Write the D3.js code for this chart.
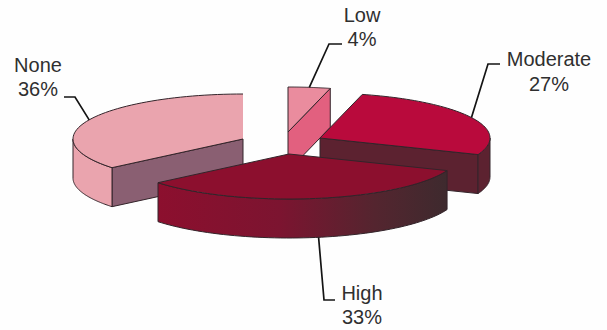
<!DOCTYPE html>
<html>
<head>
<meta charset="utf-8">
<script src="https://cdn.jsdelivr.net/npm/d3@7"></script>
<style>
  html, body { margin: 0; padding: 0; background: #fefefe; }
  svg { display: block; }
  text { font-family: "Liberation Sans", Arial, sans-serif; font-size: 20px; fill: #2f2f2f; text-anchor: middle; }
</style>
</head>
<body>
<svg id="chart" width="607" height="330"></svg>
<script>
// Pie data, clockwise from twelve o'clock
const categories = ["Low", "Moderate", "High", "None"];
const percentages = [4, 27, 33, 36];

// Layout of the exploded, tilted pie
const rx = 170, ry = 45, depth = 39;
const origins = {
  Low: [288, 132], Moderate: [320, 138], High: [289, 154], None: [243, 139]
};
const looks = {
  Low: { top: "#ea8c9e", side: "#e2607f", rim: "#e2607f" },
  Moderate: { top: "#b90a3c", side: "#5c2230", rim: "#5c2230" },
  High: { top: "#8c0f2e", side: "#8c0f2e", rim: "url(#highWall)" },
  None: { top: "#eaa4ae", side: "#8a5f72", rim: "#eaa4ae" }
};
const outline = "#33242a";

// Leader polylines run from the rim at the slice's mid-angle to an elbow and a tail
const leaders = {
  Low: [[329, 44], [342, 44]],
  Moderate: [[488, 64], [500, 64]],
  High: [[324, 300], [335, 300]],
  None: [[75, 97], [64, 97]]
};
const leaderNudge = { Low: 0, Moderate: 0, High: 3, None: 0 };
const labelSpots = {
  Low: { x: 362, y: 22, gap: 24 },
  Moderate: { x: 549, y: 66, gap: 25 },
  High: { x: 362, y: 300, gap: 24 },
  None: { x: 38, y: 72, gap: 24 }
};

const svg = d3.select("#chart");

const defs = svg.append("defs");
const grad = defs.append("linearGradient")
  .attr("id", "highWall")
  .attr("gradientUnits", "userSpaceOnUse")
  .attr("x1", 158).attr("x2", 447).attr("y1", 0).attr("y2", 0);
grad.selectAll("stop")
  .data([[0, "#8c0f2e"], [0.42, "#7c1430"], [0.75, "#54252f"], [1, "#3e2a2e"]])
  .join("stop")
  .attr("offset", d => d[0])
  .attr("stop-color", d => d[1]);

const slices = d3.pie().sort(null).value(d => d)(percentages)
  .map((s, i) => ({ ...s, name: categories[i] }));

// Elliptical projection of a pie angle onto the tilted disc
const xOf = d3.scaleLinear().domain([-1, 1]).range([-rx, rx]);
const yOf = d3.scaleLinear().domain([-1, 1]).range([-ry, ry]);
const rim = (name, a, drop = 0) => {
  const [cx, cy] = origins[name];
  return [cx + xOf(Math.sin(a)), cy + yOf(-Math.cos(a)) + drop];
};

const topArc = d3.arc().innerRadius(0).outerRadius(rx);
const line = d3.line();

// Sampled points along the rim between two angles
const rimPoints = (name, from, to, drop = 0) =>
  d3.range(0, 61).map(k => rim(name, from + (to - from) * k / 60, drop));

// Outer wall for the part of a slice's rim that faces the viewer
function wallPath(d) {
  const from = Math.max(d.startAngle, Math.PI / 2);
  const to = Math.min(d.endAngle, Math.PI * 1.5);
  if (from >= to) return null;
  const upper = rimPoints(d.name, from, to);
  const lower = rimPoints(d.name, to, from, depth);
  return line(upper.concat(lower)) + "Z";
}

// Flat cut face along one radial edge of a slice
function cutPath(d, a) {
  const [cx, cy] = origins[d.name];
  const p = rim(d.name, a);
  return line([[cx, cy], p, [p[0], p[1] + depth], [cx, cy + depth]]) + "Z";
}

// Which radial edge shows its cut face for each slice
const visibleCut = { Low: d => d.endAngle, Moderate: d => d.endAngle, None: d => d.startAngle };

// Back-to-front painting order
const order = ["Low", "None", "Moderate", "High"];
const pieces = svg.selectAll("g.slice")
  .data(order.map(n => slices.find(s => s.name === n)))
  .join("g")
  .attr("class", "slice");

pieces.each(function (d) {
  const g = d3.select(this);
  const look = looks[d.name];
  const [cx, cy] = origins[d.name];

  if (visibleCut[d.name]) {
    g.append("path")
      .attr("d", cutPath(d, visibleCut[d.name](d)))
      .attr("fill", look.side)
      .attr("stroke", outline).attr("stroke-width", 1).attr("stroke-linejoin", "round");
  }
  const wall = wallPath(d);
  if (wall) {
    g.append("path")
      .attr("d", wall)
      .attr("fill", look.rim)
      .attr("stroke", outline).attr("stroke-width", 1).attr("stroke-linejoin", "round");
  }
  g.append("path")
    .attr("d", topArc(d))
    .attr("transform", `translate(${cx},${cy}) scale(1,${ry / rx})`)
    .attr("fill", look.top);

  // The None slice's upright edge at twelve o'clock carries no outline
  const edge = [[cx, cy], ...rimPoints(d.name, d.startAngle, d.endAngle)];
  if (d.name !== "None") edge.push([cx, cy]);
  g.append("path")
    .attr("d", line(edge))
    .attr("fill", "none")
    .attr("stroke", outline).attr("stroke-width", 1).attr("stroke-linejoin", "round");
});

// Leader lines
svg.selectAll("path.leader")
  .data(slices)
  .join("path")
  .attr("class", "leader")
  .attr("fill", "none")
  .attr("stroke", "#141414")
  .attr("stroke-width", 1.7)
  .attr("d", d => {
    const mid = (d.startAngle + d.endAngle) / 2;
    const front = Math.cos(mid) < 0;
    const [x, y] = rim(d.name, mid, front ? depth : 0);
    return line([[x + leaderNudge[d.name], y], ...leaders[d.name]]);
  });

// Two-line labels: category and percentage
const labels = svg.selectAll("text.label")
  .data(slices)
  .join("text")
  .attr("class", "label");
labels.append("tspan")
  .attr("x", d => labelSpots[d.name].x)
  .attr("y", d => labelSpots[d.name].y)
  .text(d => d.name);
labels.append("tspan")
  .attr("x", d => labelSpots[d.name].x)
  .attr("y", d => labelSpots[d.name].y + labelSpots[d.name].gap)
  .text(d => d.value + "%");
</script>
</body>
</html>
